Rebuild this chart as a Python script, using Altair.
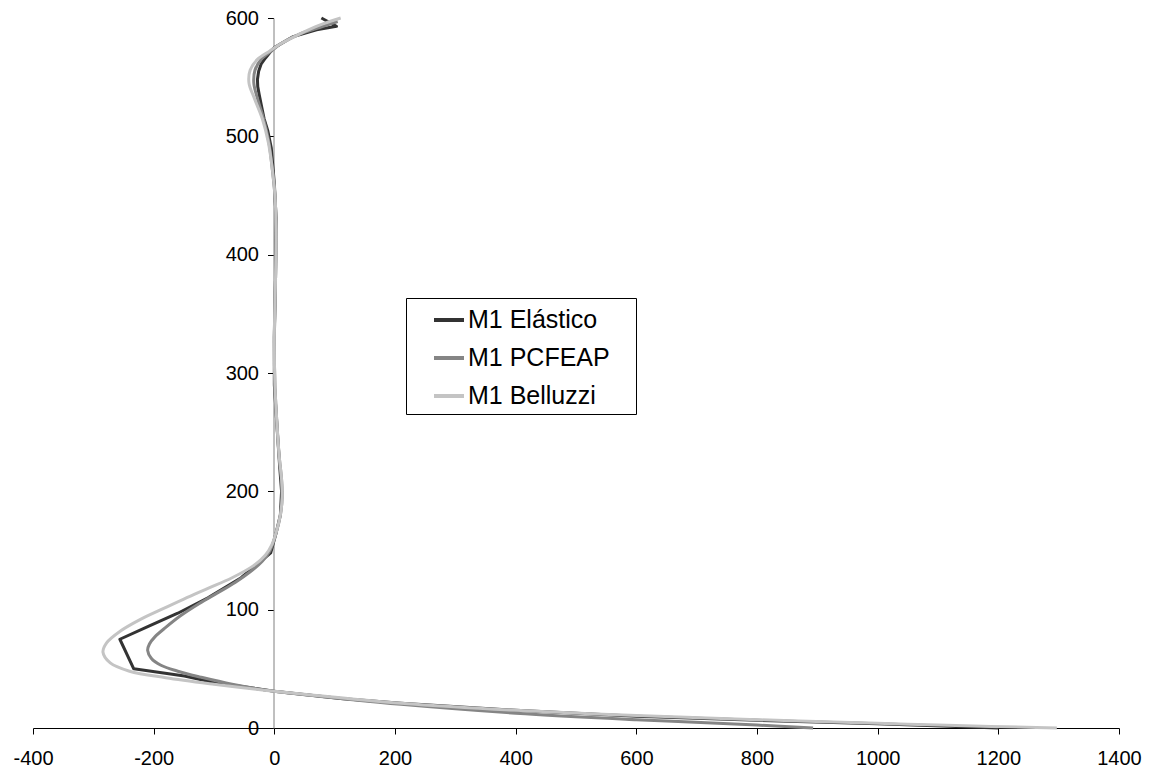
import altair as alt
import pandas as pd

series_names = ["M1 Elástico", "M1 PCFEAP", "M1 Belluzzi"]
series_colors = ["#333333", "#858585", "#c4c4c4"]

x_ticks = [-400, -200, 0, 200, 400, 600, 800, 1000, 1200, 1400]
y_ticks = [0, 100, 200, 300, 400, 500, 600]

elastico_x = [1200, 1000, 800, 600, 400, 210, 110, 0, -100, -149, -233, -256, -208, -160, -110, -55, -6,
              3, 10, 12, 9, 5, 0, 0, 2, 3, 0, -5, -11, -17, -21, -25, -27.5, -28, -26, -22, -15, -7, 0,
              30, 70, 103, 78]
elastico_y = [0, 3.5, 6.5, 10, 15, 21, 25, 31, 38.5, 44, 50, 75, 86, 97, 110, 127, 148,
              165, 180, 200, 220, 250, 290, 330, 380, 430, 460, 490, 505, 515, 525, 535, 542, 548, 555, 561, 566, 571, 575,
              584, 590, 593, 600]

pcfeap_x = [893, 800, 600, 400, 210, 110, 0, -70, -122, -160, -188, -204, -210, -207, -198, -180, -155, -125,
            -95, -65, -40, -20, -7, 3, 10, 13, 12, 8, 4, 1, 0, 2, 3, 1, -4, -9, -18, -28, -34, -32, -22, -5,
            10, 40, 75, 105]
pcfeap_y = [0, 2.5, 7, 12.5, 20, 25, 31, 37, 43, 48, 53, 59, 65.5, 71, 77, 85, 95, 105,
            114, 123, 132, 141, 150, 165, 180, 195, 210, 230, 260, 290, 330, 380, 420, 450, 475, 495, 515, 532, 545, 556, 565, 572,
            578, 586, 592, 597]

belluzzi_x = [1297, 1100, 1000, 800, 600, 400, 210, 110, 0, -100, -180, -240, -272, -284, -278, -255, -225, -188,
              -150, -110, -70, -35, -15, -4, 4, 10, 13, 12, 8, 4, 1, 0, 2, 3, 1, -4, -10, -20, -33, -42, -40,
              -28, -8, 10, 40, 75, 110]
belluzzi_y = [0, 2.5, 4, 7, 10.5, 15, 21, 25.5, 31, 37, 42.5, 48, 55, 64, 72, 82, 91, 100,
              109, 118, 127, 137, 146, 155, 167, 180, 195, 210, 230, 260, 290, 330, 380, 420, 450, 475, 495, 515, 532, 545, 556,
              565, 572, 578, 586, 594, 600]

rows = []
for name, xs, ys in zip(series_names,
                        [elastico_x, pcfeap_x, belluzzi_x],
                        [elastico_y, pcfeap_y, belluzzi_y]):
    for i, (xv, yv) in enumerate(zip(xs, ys)):
        rows.append({"serie": name, "x": xv, "y": yv, "ord": i})
df = pd.DataFrame(rows)

FONT = "Liberation Sans"

color = alt.Color(
    "serie:N",
    scale=alt.Scale(domain=series_names, range=series_colors),
    legend=alt.Legend(
        title=None,
        orient="none",
        legendX=373,
        legendY=280,
        strokeColor="black",
        fillColor="white",
        padding=5,
        symbolType="stroke",
        symbolSize=900,
        symbolStrokeWidth=4,
        symbolOffset=21,
        labelOffset=2,
        labelFont=FONT,
        labelFontSize=25,
        labelColor="black",
        labelLimit=300,
        rowPadding=8,
        labelExpr="datum.label + '\u00a0\u00a0\u00a0\u200b'",
    ),
)

x_enc = alt.X(
    "x:Q",
    scale=alt.Scale(domain=[-400, 1400], nice=False, zero=False),
    axis=alt.Axis(
        title=None, values=x_ticks, grid=False, domainColor="black", tickColor="black",
        tickSize=6, labelFont=FONT, labelFontSize=20, labelColor="black", labelPadding=14,
        labelFlush=False, labelOverlap=False, labelExpr="'' + datum.value",
    ),
)
y_enc = alt.Y(
    "y:Q",
    scale=alt.Scale(domain=[0, 600], nice=False, zero=False),
    axis=alt.Axis(
        title=None, values=y_ticks, grid=False, domainColor="#808080", tickColor="black",
        tickSize=6, labelFont=FONT, labelFontSize=20, labelColor="black", labelPadding=9,
        offset=-240.5, labelFlush=False, labelOverlap=False, labelExpr="'' + datum.value",
    ),
)

layers = []
for name in series_names:
    interp = "linear" if name == "M1 Elástico" else "catmull-rom"
    layers.append(
        alt.Chart(df)
        .transform_filter(alt.datum.serie == name)
        .mark_line(strokeWidth=3, interpolate=interp, strokeJoin="round")
        .encode(x=x_enc, y=y_enc, color=color, order=alt.Order("ord:Q"))
    )

chart = (
    alt.layer(*layers)
    .properties(
        width=1086,
        height=710,
        autosize=alt.AutoSizeParams(type="none"),
        padding={"left": 25, "top": 10, "right": 24, "bottom": 37},
        background="white",
    )
    .configure_view(stroke=None)
)

chart.save("out.html", embed_options={"renderer": "svg", "actions": False})
